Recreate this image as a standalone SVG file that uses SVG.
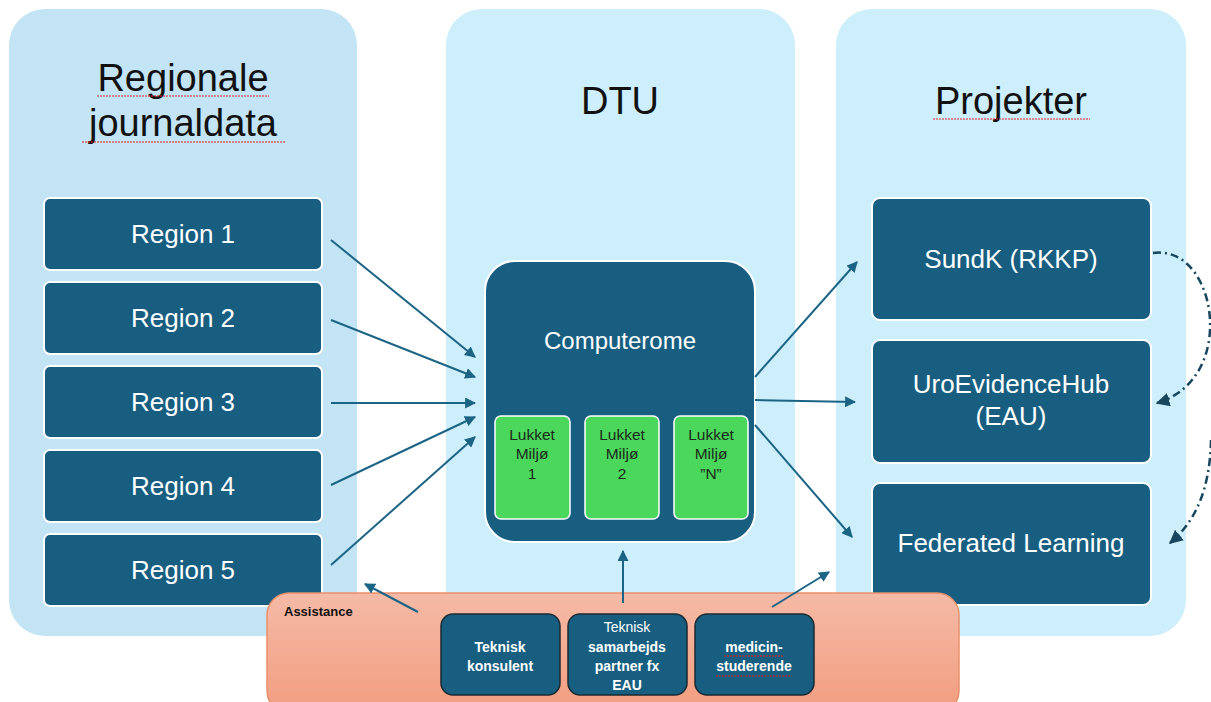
<svg xmlns="http://www.w3.org/2000/svg" width="1211" height="702" viewBox="0 0 1211 702">
<defs>
<style>
.panelL{fill:#c2e4f4}
.panel{fill:#cdeefb}
.title{font-family:"Liberation Sans",Arial,sans-serif;font-size:38px;fill:#111;text-anchor:middle}
.box{fill:#175e80;stroke:#ffffff;stroke-width:2}
.btxt{font-family:"Liberation Sans",Arial,sans-serif;font-size:26px;fill:#fff;text-anchor:middle}
.green{fill:#4bd65c;stroke:#ffffff;stroke-width:1.5}
.gtxt{font-family:"Liberation Sans",Arial,sans-serif;font-size:15.5px;fill:#1a2a1a;text-anchor:middle}
.abox{fill:#175e80;stroke:#1b2a33;stroke-width:1.5}
.atxt{font-family:"Liberation Sans",Arial,sans-serif;font-size:14px;font-weight:bold;fill:#fff;text-anchor:middle}
.conn{stroke:#1b6485;stroke-width:2;fill:none}
.dash{stroke:#17465e;stroke-width:2.5;fill:none;stroke-dasharray:8 4 2 4}
.squig{stroke:#e02020;stroke-width:1;fill:none;stroke-dasharray:2 1}
</style>
<marker id="ah" viewBox="0 0 10 10" refX="9" refY="5" markerWidth="5.5" markerHeight="5.5" orient="auto" markerUnits="strokeWidth">
<path d="M0,0 L10,5 L0,10 z" fill="#1b6485"/>
</marker>
<marker id="ahd" viewBox="0 0 10 10" refX="9" refY="5" markerWidth="5.5" markerHeight="5.5" orient="auto" markerUnits="strokeWidth">
<path d="M0,0 L10,5 L0,10 z" fill="#17465e"/>
</marker>
<linearGradient id="ag" x1="0" y1="0" x2="0" y2="1">
<stop offset="0" stop-color="#f5baa6"/>
<stop offset="1" stop-color="#f29d7f"/>
</linearGradient>
</defs>

<g id="panel-regional">
<rect class="panelL" x="9" y="9" width="348" height="627" rx="36"/>
<text class="title" x="183" y="91">Regionale</text>
<text class="title" x="183" y="136">journaldata</text>
</g>
<g id="panel-dtu">
<rect class="panel" x="446" y="9" width="349" height="627" rx="36"/>
<text class="title" x="620" y="114">DTU</text>
</g>
<g id="panel-projekter">
<rect class="panel" x="836" y="9" width="350" height="627" rx="36"/>
<text class="title" x="1011" y="114">Projekter</text>
</g>

<g id="region1"><rect class="box" x="44" y="198" width="278" height="72" rx="6"/><text class="btxt" x="183" y="243">Region 1</text></g>
<g id="region2"><rect class="box" x="44" y="282" width="278" height="72" rx="6"/><text class="btxt" x="183" y="327">Region 2</text></g>
<g id="region3"><rect class="box" x="44" y="366" width="278" height="72" rx="6"/><text class="btxt" x="183" y="411">Region 3</text></g>
<g id="region4"><rect class="box" x="44" y="450" width="278" height="72" rx="6"/><text class="btxt" x="183" y="495">Region 4</text></g>
<g id="region5"><rect class="box" x="44" y="534" width="278" height="72" rx="6"/><text class="btxt" x="183" y="579">Region 5</text></g>

<g id="computerome">
<rect class="box" x="485" y="261" width="270" height="281" rx="30"/>
<text class="btxt" x="620" y="349" style="font-size:24px">Computerome</text>
</g>
<g id="miljo1"><rect class="green" x="495" y="416" width="75" height="103" rx="6"/><text class="gtxt" x="532" y="440">Lukket</text><text class="gtxt" x="532" y="459">Miljø</text><text class="gtxt" x="532" y="479">1</text></g>
<g id="miljo2"><rect class="green" x="585" y="416" width="74" height="103" rx="6"/><text class="gtxt" x="622" y="440">Lukket</text><text class="gtxt" x="622" y="459">Miljø</text><text class="gtxt" x="622" y="479">2</text></g>
<g id="miljoN"><rect class="green" x="674" y="416" width="74" height="103" rx="6"/><text class="gtxt" x="711" y="440">Lukket</text><text class="gtxt" x="711" y="459">Miljø</text><text class="gtxt" x="711" y="479">”N”</text></g>

<g id="sundk"><rect class="box" x="872" y="198" width="279" height="122" rx="8"/><text class="btxt" x="1011" y="268">SundK (RKKP)</text></g>
<g id="uro"><rect class="box" x="872" y="340" width="279" height="123" rx="8"/><text class="btxt" x="1011" y="393">UroEvidenceHub</text><text class="btxt" x="1011" y="425">(EAU)</text></g>
<g id="federated"><rect class="box" x="872" y="483" width="279" height="122" rx="8"/><text class="btxt" x="1011" y="552">Federated Learning</text></g>

<g id="assistance">
<rect x="267" y="593" width="692" height="120" rx="22" fill="url(#ag)" stroke="#e9906c" stroke-width="1.5"/>
<text x="284" y="616" style="font-family:'Liberation Sans',Arial,sans-serif;font-size:13px;font-weight:bold;fill:#111">Assistance</text>
</g>
<g id="teknisk-konsulent"><rect class="abox" x="441" y="614" width="119" height="81" rx="12"/><text class="atxt" x="500" y="652">Teknisk</text><text class="atxt" x="500" y="671">konsulent</text></g>
<g id="teknisk-samarbejd"><rect class="abox" x="568" y="614" width="119" height="81" rx="12"/><text class="atxt" x="627" y="632" style="font-weight:normal">Teknisk</text><text class="atxt" x="627" y="652">samarbejds</text><text class="atxt" x="627" y="671">partner fx</text><text class="atxt" x="627" y="690">EAU</text></g>
<g id="medicin"><rect class="abox" x="695" y="614" width="119" height="81" rx="12"/><text class="atxt" x="754" y="652">medicin-</text><text class="atxt" x="754" y="671">studerende</text></g>

<g id="spellcheck">
<path class="squig" d="M97,96 L269,96 M82,142 L286,142 M933,119 L1090,119 M724,656 L784,656 M716,676 L792,676"/>
</g>

<g id="connectors">
<line class="conn" x1="331" y1="240" x2="475" y2="357" marker-end="url(#ah)"/>
<line class="conn" x1="331" y1="320" x2="475" y2="377" marker-end="url(#ah)"/>
<line class="conn" x1="331" y1="403" x2="475" y2="403" marker-end="url(#ah)"/>
<line class="conn" x1="331" y1="485" x2="475" y2="417" marker-end="url(#ah)"/>
<line class="conn" x1="331" y1="565" x2="475" y2="437" marker-end="url(#ah)"/>
<line class="conn" x1="755" y1="377" x2="857" y2="262" marker-end="url(#ah)"/>
<line class="conn" x1="755" y1="400" x2="855" y2="402" marker-end="url(#ah)"/>
<line class="conn" x1="755" y1="425" x2="852" y2="537" marker-end="url(#ah)"/>
<line class="conn" x1="418" y1="612" x2="365" y2="584" marker-end="url(#ah)"/>
<line class="conn" x1="623" y1="603" x2="623" y2="551" marker-end="url(#ah)"/>
<line class="conn" x1="772" y1="607" x2="829" y2="572" marker-end="url(#ah)"/>
<path class="dash" d="M1153,253 C1190,248 1212,290 1210,330 C1208,370 1185,395 1157,403" marker-end="url(#ahd)"/>
<path class="dash" d="M1211,440 C1210,490 1195,522 1170,543" marker-end="url(#ahd)"/>
</g>
</svg>
